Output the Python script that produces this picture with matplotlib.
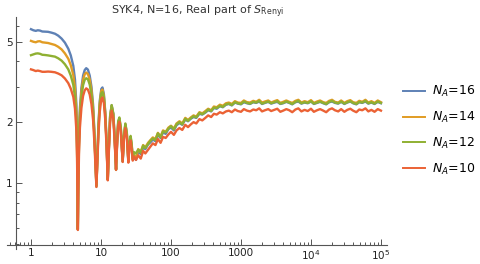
import matplotlib
matplotlib.use("Agg")
import matplotlib.pyplot as plt
from matplotlib.ticker import FixedLocator, FixedFormatter, NullFormatter
from matplotlib.lines import Line2D

plt.rcParams['font.family'] = ['DejaVu Sans']
plt.rcParams['mathtext.default'] = 'regular'

# ---- data ----
t = [1.00, 1.08, 1.17, 1.25, 1.34, 1.45, 1.58, 1.75, 1.95, 2.2, 2.45, 2.74, 3.05, 3.41, 3.7, 4.02,
     4.25, 4.45, 4.55, 4.62, 4.67, 4.73, 4.85, 5.0, 5.25, 5.55, 5.85, 6.15, 6.5, 6.9, 7.3, 7.7,
     8.05, 8.35, 8.6, 8.85, 9.2, 9.6, 10.1, 10.5, 11.0, 11.5, 12.0, 12.5, 12.9, 13.5, 14.2, 15.0,
     15.7, 16.4, 17.0, 17.6, 18.3, 19.2, 20.4, 21.3, 22.3, 23.4, 24.6, 25.5, 26.5, 27.5, 28.4,
     29.8, 31.6,
     34, 37, 40, 43, 47, 51, 55, 60, 65, 71, 77, 84, 92, 100, 110, 120,
     132, 145, 160, 175, 192, 210, 230, 255, 280, 310, 340, 375, 410, 450, 500, 550,
     610, 670, 740, 820, 900, 1000, 1100, 1220, 1350, 1500, 1650, 1820, 2000, 2200, 2450, 2700,
     3000, 3300, 3650, 4000, 4450, 4900, 5400, 6000, 6600, 7300, 8100, 9000, 10000, 11000, 12200, 13500,
     15000, 16500, 18200, 20000, 22000, 24500, 27000, 30000, 33000, 36500, 40000, 44500, 49000, 54000, 60000, 66000,
     73000, 81000, 90000, 100000]

s_na16 = [5.77, 5.70, 5.66, 5.70, 5.68, 5.62, 5.61, 5.60, 5.55, 5.48, 5.36, 5.18, 4.95, 4.62, 4.28, 3.80,
          3.25, 2.45, 1.70, 0.95, 0.59, 1.00, 1.75, 2.35, 2.95, 3.40, 3.62, 3.70, 3.64, 3.40, 3.00, 2.45,
          1.80, 1.30, 0.97, 1.30, 1.95, 2.55, 2.92, 2.97, 2.75, 2.25, 1.62, 1.04, 1.45, 2.15, 2.42, 2.20,
          1.65, 1.17, 1.60, 1.98, 2.08, 1.85, 1.28, 1.70, 1.95, 1.75, 1.28, 1.55, 1.68, 1.52, 1.31,
          1.36, 1.30,
          1.43, 1.39, 1.50, 1.47, 1.55, 1.59, 1.64, 1.61, 1.73, 1.67, 1.78, 1.75, 1.85, 1.88, 1.82, 1.93,
          1.98, 1.94, 2.06, 2.02, 2.08, 2.12, 2.10, 2.20, 2.18, 2.23, 2.29, 2.26, 2.35, 2.33, 2.40, 2.37,
          2.44, 2.46, 2.42, 2.50, 2.47, 2.45, 2.51, 2.48, 2.46, 2.51, 2.49, 2.53, 2.46, 2.49, 2.52, 2.47,
          2.50, 2.52, 2.46, 2.48, 2.52, 2.49, 2.45, 2.51, 2.53, 2.47, 2.50, 2.48, 2.53, 2.46, 2.49, 2.52,
          2.48, 2.45, 2.51, 2.53, 2.49, 2.47, 2.52, 2.46, 2.50, 2.53, 2.48, 2.45, 2.51, 2.49, 2.53, 2.47,
          2.50, 2.46, 2.52, 2.48]

s_na14 = [5.05, 5.00, 4.97, 5.02, 5.03, 4.97, 4.95, 4.93, 4.88, 4.82, 4.72, 4.58, 4.38, 4.12, 3.83, 3.42,
          2.95, 2.25, 1.58, 0.90, 0.59, 0.95, 1.65, 2.23, 2.82, 3.25, 3.45, 3.52, 3.46, 3.25, 2.88, 2.36,
          1.75, 1.28, 0.97, 1.28, 1.90, 2.48, 2.86, 2.90, 2.70, 2.22, 1.60, 1.04, 1.44, 2.13, 2.40, 2.18,
          1.64, 1.17, 1.60, 1.98, 2.08, 1.85, 1.28, 1.70, 1.95, 1.75, 1.28, 1.55, 1.68, 1.52, 1.31,
          1.37, 1.33,
          1.47, 1.43, 1.54, 1.50, 1.58, 1.63, 1.68, 1.65, 1.77, 1.70, 1.82, 1.79, 1.88, 1.92, 1.86, 1.97,
          2.02, 1.97, 2.10, 2.05, 2.11, 2.16, 2.13, 2.24, 2.21, 2.27, 2.33, 2.29, 2.39, 2.37, 2.44, 2.41,
          2.48, 2.50, 2.46, 2.54, 2.50, 2.49, 2.56, 2.51, 2.50, 2.55, 2.52, 2.58, 2.50, 2.53, 2.56, 2.50,
          2.54, 2.57, 2.49, 2.52, 2.56, 2.52, 2.49, 2.55, 2.58, 2.50, 2.54, 2.51, 2.57, 2.49, 2.53, 2.56,
          2.51, 2.49, 2.55, 2.58, 2.52, 2.50, 2.56, 2.49, 2.54, 2.57, 2.51, 2.49, 2.55, 2.52, 2.58, 2.50,
          2.54, 2.49, 2.56, 2.51]

s_na12 = [4.29, 4.33, 4.37, 4.38, 4.36, 4.31, 4.30, 4.28, 4.25, 4.22, 4.14, 4.03, 3.87, 3.65, 3.40, 3.06,
          2.65, 2.05, 1.45, 0.85, 0.59, 0.90, 1.55, 2.10, 2.65, 3.05, 3.24, 3.30, 3.26, 3.07, 2.73, 2.26,
          1.70, 1.25, 0.96, 1.26, 1.85, 2.40, 2.78, 2.82, 2.63, 2.17, 1.58, 1.04, 1.43, 2.10, 2.43, 2.20,
          1.65, 1.16, 1.62, 2.02, 2.11, 1.88, 1.28, 1.72, 1.97, 1.77, 1.28, 1.58, 1.71, 1.55, 1.33,
          1.42, 1.40,
          1.46, 1.41, 1.53, 1.49, 1.56, 1.62, 1.66, 1.63, 1.76, 1.68, 1.80, 1.78, 1.86, 1.91, 1.84, 1.95,
          2.00, 1.95, 2.08, 2.03, 2.09, 2.14, 2.11, 2.22, 2.19, 2.24, 2.31, 2.27, 2.36, 2.35, 2.41, 2.38,
          2.45, 2.47, 2.43, 2.51, 2.48, 2.46, 2.53, 2.49, 2.47, 2.52, 2.50, 2.55, 2.47, 2.50, 2.53, 2.48,
          2.51, 2.54, 2.47, 2.49, 2.53, 2.50, 2.46, 2.52, 2.55, 2.48, 2.51, 2.49, 2.54, 2.47, 2.50, 2.53,
          2.49, 2.46, 2.52, 2.55, 2.50, 2.48, 2.53, 2.47, 2.51, 2.54, 2.49, 2.46, 2.52, 2.50, 2.55, 2.48,
          2.51, 2.47, 2.53, 2.49]

s_na10 = [3.65, 3.62, 3.58, 3.60, 3.58, 3.55, 3.55, 3.56, 3.55, 3.53, 3.48, 3.41, 3.29, 3.12, 2.93, 2.67,
          2.33, 1.82, 1.32, 0.80, 0.585, 0.85, 1.40, 1.88, 2.35, 2.70, 2.87, 2.94, 2.90, 2.74, 2.46, 2.06,
          1.58, 1.18, 0.955, 1.22, 1.75, 2.25, 2.60, 2.65, 2.48, 2.06, 1.52, 1.03, 1.38, 2.00, 2.28, 2.08,
          1.58, 1.16, 1.55, 1.92, 2.01, 1.78, 1.27, 1.64, 1.87, 1.68, 1.26, 1.50, 1.62, 1.47, 1.29,
          1.35, 1.30,
          1.37, 1.32, 1.44, 1.40, 1.46, 1.52, 1.57, 1.54, 1.65, 1.58, 1.69, 1.67, 1.74, 1.79, 1.73, 1.82,
          1.87, 1.83, 1.94, 1.89, 1.95, 2.00, 1.97, 2.07, 2.04, 2.10, 2.16, 2.12, 2.20, 2.18, 2.24, 2.21,
          2.26, 2.28, 2.24, 2.31, 2.27, 2.25, 2.32, 2.28, 2.26, 2.31, 2.29, 2.34, 2.26, 2.29, 2.32, 2.27,
          2.30, 2.33, 2.25, 2.28, 2.32, 2.29, 2.24, 2.31, 2.34, 2.26, 2.30, 2.27, 2.33, 2.25, 2.29, 2.32,
          2.28, 2.24, 2.31, 2.34, 2.29, 2.26, 2.32, 2.25, 2.30, 2.33, 2.28, 2.24, 2.31, 2.29, 2.34, 2.26,
          2.30, 2.25, 2.32, 2.28]

series_labels = ['$\\mathit{N}_\\mathit{A}$=16', '$\\mathit{N}_\\mathit{A}$=14',
                 '$\\mathit{N}_\\mathit{A}$=12', '$\\mathit{N}_\\mathit{A}$=10']
series_colors = ['#5E81B5', '#E19C24', '#8FB032', '#EB6235']

x_major = [1, 10, 100, 1000, 1e4, 1e5]
x_major_labels = ['1', '10', '100', '1000', '$10^4$', '$10^5$']
y_major = [1, 2, 5]
y_major_labels = ['1', '2', '5']
y_minor = [0.5, 0.6, 0.7, 0.8, 0.9, 3, 4, 6]

title_text = 'SYK4, N=16, Real part of $\\mathit{S}_{\\rm Renyi}$'

# ---- figure ----
fig = plt.figure(figsize=(4.81, 2.64), dpi=100)
ax = fig.add_axes([7/481, 15/264, 380/481, 232/264])
ax.set_xscale('log')
ax.set_yscale('log')

for vals, lab, col in zip([s_na16, s_na14, s_na12, s_na10], series_labels, series_colors):
    ax.plot(t, vals, color=col, lw=1.7, label=lab, solid_joinstyle='round')

ax.set_xlim(0.454, 1.22e5)
ax.set_ylim(0.471, 6.63)

for s in ['top', 'right']:
    ax.spines[s].set_visible(False)
ax.spines['left'].set_position(('data', 0.611))
ax.spines['bottom'].set_position(('data', 0.493))
for s in ['left', 'bottom']:
    ax.spines[s].set_color('#555555')
    ax.spines[s].set_linewidth(0.8)

x_minor = []
for d in [0.1, 1, 10, 100, 1000, 10000]:
    for k in range(2, 10):
        v = d * k
        if 0.454 <= v <= 1.22e5:
            x_minor.append(v)

ax.xaxis.set_major_locator(FixedLocator(x_major))
ax.xaxis.set_major_formatter(FixedFormatter(x_major_labels))
ax.xaxis.set_minor_locator(FixedLocator(x_minor))
ax.xaxis.set_minor_formatter(NullFormatter())
ax.yaxis.set_major_locator(FixedLocator(y_major))
ax.yaxis.set_major_formatter(FixedFormatter(y_major_labels))
ax.yaxis.set_minor_locator(FixedLocator(y_minor))
ax.yaxis.set_minor_formatter(NullFormatter())

ax.tick_params(which='both', direction='in', color='#555555', width=0.7, labelsize=7.5,
               labelcolor='#222222', pad=2.5)
ax.tick_params(which='major', length=4)
ax.tick_params(which='minor', length=2.2)

fig.text(198/481, 1 - 12/264, title_text, ha='center', va='center', fontsize=8, color='#333333')

handles = [Line2D([], [], color=c, lw=1.4) for c in series_colors]
fig.legend(handles, series_labels, loc='center left', bbox_to_anchor=(403/481, 1 - 130.5/264),
           frameon=False, fontsize=9, handlelength=1.75, handletextpad=0.6, labelspacing=0.85,
           borderpad=0, borderaxespad=0)

fig.savefig('out.png', dpi=100)
